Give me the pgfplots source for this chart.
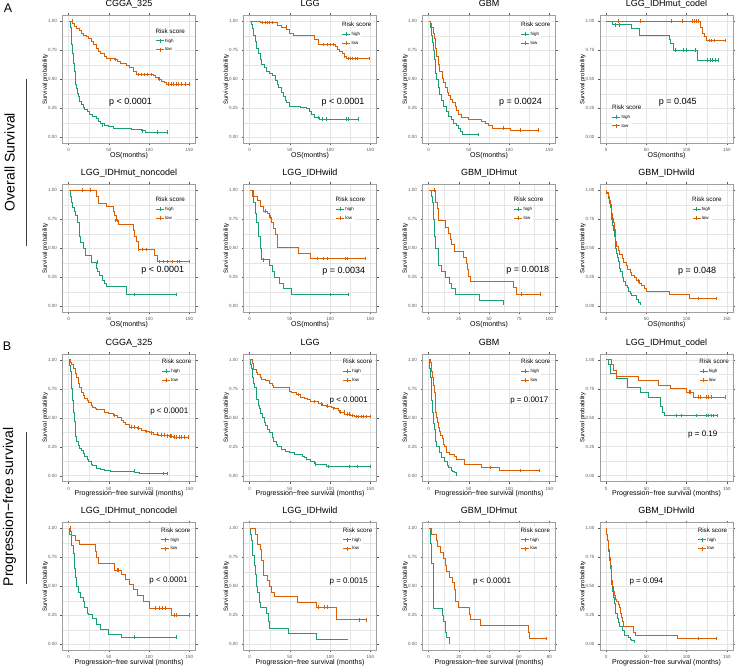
\documentclass[border=0pt]{standalone}
\usepackage{fontspec}
\setmainfont{Liberation Sans}
\usepackage{pgfplots}
\pgfplotsset{compat=1.18}
\definecolor{khigh}{HTML}{1B9E77}
\definecolor{klow}{HTML}{D95F02}
\definecolor{kgrid}{gray}{0.90}
\definecolor{kframe}{gray}{0.62}
\definecolor{ktick}{gray}{0.35}
\pgfplotsset{
  km/.style={
    width=133pt, height=127.5pt, scale only axis, anchor=south west,
    xmin=-7.5, xmax=157.5, ymin=-0.05, ymax=1.05,
    xtick={0,50,100,150}, minor xtick={25,75,125},
    ytick={0,0.25,0.5,0.75,1}, minor ytick={0.125,0.375,0.625,0.875},
    yticklabels={0.00,0.25,0.50,0.75,1.00},
    grid=both,
    major grid style={draw=kgrid, line width=0.5pt},
    minor grid style={draw=kgrid, line width=0.3pt},
    axis line style={draw=kframe, line width=0.6pt},
    tick align=outside, major tick length=2pt, minor tick length=0pt,
    tick style={draw=ktick, line width=0.4pt},
    tick label style={font=\fontsize{4.5}{5}\selectfont, text=ktick},
    /pgf/number format/assume math mode=true,
    ylabel={Survival probability},
    ylabel style={font=\fontsize{6}{7}\selectfont, at={(axis description cs:-0.13,0.5)}, anchor=center},
    xlabel style={font=\fontsize{7}{8}\selectfont, at={(axis description cs:0.5,0)}, anchor=center, yshift=-12.3pt},
    title style={font=\fontsize{9}{10}\selectfont, at={(axis description cs:0.5,1)}, anchor=base, yshift=3pt},
    legend cell align=left,
    legend style={draw=none, fill=white, inner sep=0.5pt, anchor=north west,
      font=\fontsize{4.5}{5}\selectfont, row sep=3pt,
      nodes={inner sep=0.8pt, text height=3.4pt, text depth=0.9pt}},
    legend image code/.code={
      \draw[#1,line width=0.8pt] (0pt,0pt) -- (8pt,0pt);
      \draw[#1,line width=0.8pt] (4pt,-2pt) -- (4pt,2pt);
    },
  },
  os/.style={xlabel={OS(months)}},
  pfs/.style={xlabel={Progression−free survival (months)}},
  hl/.style={khigh, line width=0.75pt, const plot},
  ll/.style={klow, line width=0.75pt, const plot},
  hc/.style={khigh, only marks, mark=|, mark size=1.8pt, forget plot, mark options={line width=0.5pt}},
  lc/.style={klow, only marks, mark=|, mark size=1.8pt, forget plot, mark options={line width=0.5pt}},
  legat/.style 2 args={legend style={at={(axis description cs:#1,#2)}}},
}
\newcommand{\risk}[2]{\node[anchor=west, inner sep=0.5pt, fill=white, font=\fontsize{6.3}{7}\selectfont] at (axis description cs:#1,#2) {Risk score};}
\newcommand{\pA}[3]{\node[font=\fontsize{9}{10}\selectfont] at (axis cs:#1,#2) {#3};}
\newcommand{\pB}[3]{\node[font=\fontsize{8}{9}\selectfont] at (axis cs:#1,#2) {#3};}
\begin{document}
\begin{tikzpicture}
\useasboundingbox (0pt,0pt) rectangle (739pt,-671pt);
\node[font=\fontsize{12.5}{14}\selectfont] at (8pt,-8pt) {A};
\node[font=\fontsize{12.5}{14}\selectfont] at (7pt,-346pt) {B};
\node[rotate=90, font=\fontsize{14}{16}\selectfont] at (9.5pt,-162pt) {Overall Survival};
\node[rotate=90, font=\fontsize{14}{16}\selectfont] at (9.5pt,-507pt) {Progression−free survival};
\draw[black!75, line width=0.6pt] (26.5pt,-79pt) -- (26.5pt,-246pt);
\draw[black!75, line width=0.6pt] (26.5pt,-432pt) -- (26.5pt,-584pt);

% ---------------- Row 1 : OS ----------------
\begin{axis}[km, os, at={(62.5pt,-143pt)}, title={CGGA\_325}, legat={0.694}{0.83}]
\addplot[hl] coordinates {(0,1)(2,0.95)(3,0.88)(4,0.8)(5,0.72)(6,0.64)(7,0.57)(8,0.51)(9,0.46)(10,0.42)(11,0.38)(12,0.35)(14,0.31)(16,0.28)(18,0.26)(20,0.24)(23,0.22)(26,0.2)(30,0.18)(34,0.16)(37,0.14)(40,0.12)(44,0.1)(50,0.09)(56,0.08)(65,0.075)(78,0.065)(90,0.055)(95,0.045)(123,0.045)};
\addplot[hc] coordinates {(42,0.1)(92,0.055)(110,0.045)(123,0.045)};
\addplot[ll] coordinates {(0,1)(3,1)(5,0.98)(7,0.96)(10,0.94)(13,0.92)(16,0.9)(19,0.88)(22,0.87)(25,0.85)(28,0.83)(31,0.8)(34,0.77)(37,0.74)(40,0.72)(44,0.7)(47,0.68)(57,0.67)(60,0.655)(64,0.64)(72,0.62)(76,0.6)(80,0.57)(84,0.54)(105,0.53)(108,0.515)(111,0.5)(115,0.48)(119,0.47)(121,0.46)(150,0.46)};
\addplot[lc] coordinates {(4,1)(52,0.67)(58,0.67)(86,0.54)(90,0.54)(94,0.54)(98,0.54)(102,0.54)(112,0.5)(124,0.46)(127,0.46)(130,0.46)(133,0.46)(136,0.46)(140,0.46)(145,0.46)(150,0.46)};
\legend{high,low}
\risk{0.694}{0.879}
\pA{77}{0.3}{p < 0.0001}
\end{axis}

\begin{axis}[km, os, at={(243.5pt,-143pt)}, title={LGG}, legat={0.736}{0.882}]
\addplot[hl] coordinates {(0,1)(2,0.97)(3,0.94)(5,0.88)(7,0.83)(9,0.77)(11,0.72)(13,0.67)(15,0.63)(18,0.6)(21,0.57)(25,0.55)(28,0.53)(32,0.49)(34,0.46)(36,0.43)(39,0.39)(42,0.35)(44,0.32)(46,0.3)(49,0.27)(63,0.26)(71,0.25)(74,0.22)(77,0.2)(81,0.17)(87,0.155)(135,0.155)};
\addplot[hc] coordinates {(85,0.17)(90,0.155)(95,0.155)(120,0.155)(122,0.155)(135,0.155)};
\addplot[ll] coordinates {(0,1)(14,0.99)(34,0.965)(40,0.95)(46,0.93)(50,0.9)(54,0.88)(81,0.84)(86,0.8)(106,0.78)(109,0.76)(112,0.74)(115,0.72)(118,0.7)(120,0.68)(149,0.68)};
\addplot[lc] coordinates {(16,0.99)(19,0.99)(22,0.99)(25,0.99)(28,0.99)(45,0.95)(92,0.8)(96,0.8)(100,0.8)(104,0.8)(118,0.7)(122,0.68)(125,0.68)(128,0.68)(131,0.68)(134,0.68)(149,0.68)};
\legend{high,low}
\risk{0.736}{0.931}
\pA{116}{0.3}{p < 0.0001}
\end{axis}

\begin{axis}[km, os, at={(422.5pt,-143pt)}, title={GBM}, legat={0.736}{0.882}]
\addplot[hl] coordinates {(0,1)(2,0.95)(4,0.88)(5,0.82)(6,0.75)(7,0.67)(8,0.6)(9,0.55)(10,0.5)(12,0.43)(14,0.37)(16,0.32)(19,0.27)(22,0.22)(25,0.18)(28,0.15)(31,0.12)(34,0.1)(37,0.08)(40,0.05)(42,0.025)(62,0.025)};
\addplot[hc] coordinates {(62,0.025)};
\addplot[ll] coordinates {(0,1)(2,0.98)(4,0.95)(6,0.9)(7,0.85)(9,0.77)(10,0.7)(12,0.63)(14,0.57)(17,0.51)(19,0.47)(21,0.43)(23,0.39)(25,0.36)(27,0.33)(30,0.3)(33,0.27)(35,0.23)(37,0.2)(41,0.17)(50,0.15)(66,0.14)(71,0.12)(74,0.1)(79,0.08)(101,0.06)(136,0.06)};
\addplot[lc] coordinates {(93,0.08)(114,0.06)(136,0.06)};
\legend{high,low}
\risk{0.736}{0.931}
\pA{114}{0.3}{p = 0.0024}
\end{axis}

\begin{axis}[km, os, at={(600pt,-143pt)}, title={LGG\_IDHmut\_codel}, legat={0.085}{0.233}]
\addplot[hl] coordinates {(0,1)(8,0.97)(32,0.94)(41,0.875)(78,0.84)(80,0.81)(84,0.75)(113,0.665)(140,0.665)};
\addplot[hc] coordinates {(12,0.97)(16,0.97)(86,0.75)(96,0.75)(99,0.75)(111,0.75)(126,0.665)(129,0.665)(132,0.665)(135,0.665)(139,0.665)};
\addplot[ll] coordinates {(0,1)(117,0.95)(120,0.9)(122,0.87)(124,0.835)(148,0.835)};
\addplot[lc] coordinates {(15,1)(43,1)(81,1)(94,1)(107,1)(110,1)(112,1)(114,1)(128,0.835)(131,0.835)(134,0.835)(148,0.835)};
\legend{high,low}
\risk{0.085}{0.282}
\pA{89}{0.3}{p = 0.045}
\end{axis}

% ---------------- Row 2 : OS ----------------
\begin{axis}[km, os, at={(62.5pt,-312pt)}, title={LGG\_IDHmut\_noncodel}, legat={0.694}{0.833}]
\addplot[hl] coordinates {(0,1)(2,0.95)(3,0.9)(5,0.85)(7,0.82)(9,0.78)(11,0.72)(13,0.66)(14,0.6)(15,0.55)(18,0.5)(21,0.44)(28,0.38)(34,0.33)(36,0.3)(38,0.27)(42,0.22)(45,0.2)(47,0.17)(72,0.1)(133,0.1)};
\addplot[hc] coordinates {(35,0.38)(82,0.1)(133,0.1)};
\addplot[ll] coordinates {(0,1)(34,0.95)(37,0.89)(47,0.86)(55,0.82)(57,0.78)(59,0.74)(62,0.71)(80,0.65)(82,0.6)(84,0.56)(87,0.49)(107,0.44)(110,0.385)(150,0.385)};
\addplot[lc] coordinates {(17,1)(27,1)(58,0.74)(60,0.74)(86,0.49)(91,0.49)(97,0.49)(113,0.385)(118,0.385)(123,0.385)(129,0.385)(135,0.385)(137,0.385)(150,0.385)};
\legend{high,low}
\risk{0.694}{0.882}
\pA{117}{0.31}{p < 0.0001}
\end{axis}

\begin{axis}[km, os, at={(243.5pt,-312pt)}, title={LGG\_IDHwild}, legat={0.688}{0.833}]
\addplot[hl] coordinates {(0,1)(5,0.9)(7,0.8)(9,0.72)(11,0.6)(13,0.5)(15,0.4)(25,0.35)(28,0.3)(31,0.25)(37,0.2)(42,0.15)(52,0.1)(123,0.1)};
\addplot[hc] coordinates {(17,0.4)(100,0.1)(123,0.1)};
\addplot[ll] coordinates {(0,1)(4,0.95)(10,0.91)(14,0.86)(17,0.82)(22,0.8)(25,0.77)(27,0.72)(30,0.67)(32,0.62)(34,0.56)(35,0.51)(60,0.46)(76,0.41)(144,0.41)};
\addplot[lc] coordinates {(20,0.82)(26,0.77)(84,0.41)(92,0.41)(96,0.41)(119,0.41)(121,0.41)(144,0.41)};
\legend{high,low}
\risk{0.688}{0.882}
\pA{117}{0.30}{p = 0.0034}
\end{axis}

\begin{axis}[km, os, at={(422.5pt,-312pt)}, title={GBM\_IDHmut}, xmin=-5, xmax=105, xtick={0,25,50,75,100}, minor xtick={12.5,37.5,62.5,87.5}, legat={0.682}{0.833}]
\addplot[hl] coordinates {(0,1)(2,0.95)(3,0.9)(4,0.75)(5,0.6)(6,0.5)(8,0.35)(11,0.3)(14,0.25)(17,0.2)(19,0.15)(22,0.1)(42,0.05)(61,0.05)(61.5,0.01)};
\addplot[ll] coordinates {(0,1)(6,0.9)(7,0.84)(8,0.74)(14,0.68)(16,0.63)(18,0.58)(19,0.53)(21,0.47)(29,0.42)(31,0.37)(32,0.32)(33,0.26)(35,0.21)(70,0.16)(73,0.105)(92,0.105)};
\addplot[lc] coordinates {(5,1)(77,0.105)(92,0.105)};
\legend{high,low}
\risk{0.682}{0.882}
\pA{82}{0.31}{p = 0.0018}
\end{axis}

\begin{axis}[km, os, at={(600pt,-312pt)}, title={GBM\_IDHwild}, legat={0.688}{0.833}]
\addplot[hl] coordinates {(0,1)(1,0.97)(3,0.93)(4,0.89)(5,0.85)(6,0.8)(7,0.75)(8,0.7)(9,0.65)(10,0.6)(11,0.55)(12,0.5)(13,0.46)(14,0.42)(15,0.39)(16,0.36)(17,0.33)(18,0.3)(20,0.25)(22,0.21)(24,0.18)(26,0.16)(28,0.13)(30,0.11)(32,0.09)(38,0.06)(40,0.03)(42,0.01)};
\addplot[ll] coordinates {(0,1)(1,0.98)(3,0.95)(4,0.91)(5,0.88)(6,0.85)(7,0.8)(8,0.76)(9,0.72)(10,0.66)(11,0.6)(12,0.56)(13,0.52)(15,0.48)(17,0.45)(20,0.41)(22,0.38)(25,0.35)(27,0.32)(30,0.29)(32,0.27)(35,0.25)(38,0.22)(41,0.2)(44,0.18)(47,0.15)(50,0.13)(78,0.1)(103,0.065)(137,0.065)};
\addplot[lc] coordinates {(40,0.22)(114,0.065)(137,0.065)};
\legend{high,low}
\risk{0.688}{0.882}
\pA{113}{0.30}{p = 0.048}
\end{axis}

% ---------------- Row 3 : PFS ----------------
\begin{axis}[km, pfs, at={(62.5pt,-481.5pt)}, title={CGGA\_325}, legat={0.742}{0.893}]
\addplot[hl] coordinates {(0,1)(1,0.95)(2,0.9)(3,0.82)(4,0.75)(5,0.65)(6,0.55)(7,0.47)(8,0.4)(9,0.34)(10,0.3)(12,0.26)(14,0.24)(16,0.22)(18,0.19)(20,0.17)(23,0.14)(25,0.12)(28,0.1)(30,0.09)(35,0.065)(40,0.055)(45,0.05)(52,0.04)(82,0.03)(88,0.02)(123,0.02)};
\addplot[hc] coordinates {(81,0.04)(117,0.02)(123,0.02)};
\addplot[ll] coordinates {(0,1)(2,0.98)(4,0.96)(6,0.93)(8,0.88)(10,0.85)(12,0.8)(14,0.76)(16,0.72)(18,0.69)(20,0.67)(23,0.65)(25,0.63)(28,0.61)(30,0.59)(33,0.58)(35,0.57)(45,0.55)(50,0.535)(55,0.52)(60,0.5)(65,0.48)(68,0.46)(71,0.44)(75,0.42)(85,0.41)(90,0.395)(95,0.38)(100,0.37)(105,0.36)(112,0.35)(120,0.345)(125,0.34)(130,0.335)(149,0.335)};
\addplot[lc] coordinates {(57,0.52)(78,0.42)(82,0.42)(87,0.41)(97,0.38)(102,0.37)(110,0.36)(115,0.35)(119,0.35)(122,0.345)(126,0.34)(128,0.34)(131,0.335)(134,0.335)(137,0.335)(140,0.335)(143,0.335)(149,0.335)};
\legend{high,low}
\risk{0.742}{0.942}
\pB{125}{0.554}{p < 0.0001}
\end{axis}

\begin{axis}[km, pfs, at={(243.5pt,-481.5pt)}, title={LGG}, legat={0.742}{0.893}]
\addplot[hl] coordinates {(0,1)(1,0.96)(2,0.93)(3,0.89)(4,0.85)(5,0.8)(6,0.76)(8,0.7)(9,0.66)(11,0.61)(12,0.58)(14,0.54)(16,0.5)(18,0.46)(20,0.43)(22,0.4)(25,0.37)(28,0.33)(30,0.3)(33,0.27)(35,0.25)(40,0.23)(45,0.21)(50,0.2)(55,0.18)(65,0.17)(68,0.155)(70,0.14)(75,0.12)(80,0.105)(82,0.1)(90,0.095)(95,0.08)(150,0.08)};
\addplot[hc] coordinates {(82,0.1)(98,0.08)(124,0.08)(133,0.08)(150,0.08)};
\addplot[ll] coordinates {(0,1)(3,0.97)(5,0.92)(8,0.89)(10,0.87)(13,0.85)(15,0.83)(20,0.82)(25,0.8)(28,0.78)(30,0.76)(50,0.73)(52,0.72)(58,0.7)(63,0.68)(68,0.67)(72,0.655)(76,0.64)(85,0.62)(90,0.61)(95,0.6)(102,0.59)(105,0.58)(110,0.56)(112,0.55)(118,0.53)(125,0.52)(130,0.51)(150,0.51)};
\addplot[lc] coordinates {(60,0.7)(80,0.64)(89,0.62)(96,0.6)(104,0.58)(113,0.55)(117,0.55)(121,0.53)(124,0.53)(128,0.52)(132,0.51)(135,0.51)(138,0.51)(141,0.51)(145,0.51)(150,0.51)};
\legend{high,low}
\risk{0.742}{0.942}
\pB{123}{0.65}{p < 0.0001}
\end{axis}

\begin{axis}[km, pfs, at={(422.5pt,-481.5pt)}, title={GBM}, legat={0.736}{0.893}]
\addplot[hl] coordinates {(0,1)(1,0.93)(2,0.85)(3,0.75)(4,0.65)(5,0.55)(6,0.45)(7,0.4)(8,0.35)(9,0.3)(10,0.25)(13,0.2)(16,0.16)(20,0.12)(23,0.09)(25,0.07)(28,0.05)(30,0.04)(32,0.03)(34,0.02)(35,0.0)};
\addplot[ll] coordinates {(0,1)(2,0.98)(3,0.95)(4,0.9)(5,0.85)(6,0.78)(7,0.72)(8,0.62)(9,0.55)(10,0.5)(11,0.46)(12,0.42)(14,0.38)(15,0.35)(17,0.32)(18,0.3)(19,0.27)(20,0.25)(22,0.2)(26,0.18)(32,0.17)(35,0.14)(45,0.1)(66,0.07)(88,0.045)(137,0.045)};
\addplot[lc] coordinates {(77,0.07)(114,0.045)(137,0.045)};
\legend{high,low}
\risk{0.736}{0.942}
\pB{125}{0.65}{p = 0.0017}
\end{axis}

\begin{axis}[km, pfs, at={(600pt,-481.5pt)}, title={LGG\_IDHmut\_codel}, legat={0.742}{0.893}]
\addplot[hl] coordinates {(0,1)(3,0.96)(5,0.88)(13,0.84)(26,0.76)(42,0.72)(52,0.68)(67,0.6)(70,0.55)(72,0.52)(138,0.52)};
\addplot[hc] coordinates {(87,0.52)(93,0.52)(112,0.52)(124,0.52)(127,0.52)(130,0.52)(133,0.52)(138,0.52)};
\addplot[ll] coordinates {(0,1)(6,0.96)(9,0.91)(13,0.86)(40,0.82)(65,0.78)(80,0.75)(100,0.72)(108,0.68)(148,0.68)};
\addplot[lc] coordinates {(103,0.72)(105,0.72)(115,0.68)(117,0.68)(124,0.68)(127,0.68)(130,0.68)(148,0.68)};
\legend{high,low}
\risk{0.742}{0.942}
\pB{120}{0.354}{p = 0.19}
\end{axis}

% ---------------- Row 4 : PFS ----------------
\begin{axis}[km, pfs, at={(62.5pt,-650pt)}, title={LGG\_IDHmut\_noncodel}, legat={0.736}{0.893}]
\addplot[hl] coordinates {(0,1)(1,0.95)(3,0.9)(4,0.85)(6,0.78)(7,0.65)(8,0.58)(10,0.5)(12,0.45)(15,0.4)(18,0.37)(20,0.32)(23,0.27)(25,0.26)(30,0.22)(35,0.17)(40,0.13)(50,0.085)(65,0.06)(133,0.06)};
\addplot[hc] coordinates {(82,0.06)(133,0.06)};
\addplot[ll] coordinates {(0,1)(2,0.97)(3,0.94)(8,0.9)(13,0.86)(33,0.8)(35,0.75)(37,0.7)(57,0.64)(66,0.6)(70,0.56)(75,0.52)(80,0.47)(85,0.42)(93,0.37)(100,0.31)(127,0.25)(150,0.25)};
\addplot[lc] coordinates {(2,1)(60,0.64)(62,0.64)(108,0.31)(112,0.31)(116,0.31)(120,0.31)(131,0.25)(134,0.25)(150,0.25)};
\legend{high,low}
\risk{0.736}{0.942}
\pB{124}{0.55}{p < 0.0001}
\end{axis}

\begin{axis}[km, pfs, at={(243.5pt,-650pt)}, title={LGG\_IDHwild}, legat={0.742}{0.893}]
\addplot[hl] coordinates {(0,1)(1,0.95)(2,0.9)(3,0.82)(4,0.77)(6,0.68)(7,0.6)(8,0.55)(9,0.5)(10,0.45)(12,0.36)(13,0.32)(21,0.27)(23,0.2)(25,0.14)(48,0.09)(83,0.045)(122,0.045)};
\addplot[ll] coordinates {(0,1)(7,0.95)(10,0.86)(13,0.82)(15,0.72)(17,0.59)(22,0.55)(24,0.5)(27,0.45)(31,0.41)(59,0.36)(83,0.32)(108,0.21)(145,0.21)};
\addplot[lc] coordinates {(85,0.32)(93,0.32)(97,0.32)(136,0.21)(145,0.21)};
\legend{high,low}
\risk{0.742}{0.942}
\pB{123}{0.545}{p = 0.0015}
\end{axis}

\begin{axis}[km, pfs, at={(422.5pt,-650pt)}, title={GBM\_IDHmut}, xmin=-4, xmax=84, xtick={0,20,40,60,80}, minor xtick={10,30,50,70}, legat={0.733}{0.893}]
\addplot[hl] coordinates {(0,1)(1,0.87)(2,0.7)(3,0.5)(3.5,0.31)(9,0.25)(10,0.2)(11,0.1)(11.5,0.06)(14,0)};
\addplot[ll] coordinates {(0,1)(2,0.95)(5,0.9)(6,0.84)(7.5,0.79)(10,0.74)(11,0.68)(12,0.63)(14,0.58)(16,0.53)(17,0.47)(17.5,0.42)(18,0.37)(20,0.32)(27,0.26)(28,0.21)(34,0.16)(66,0.1)(67,0.05)(78,0.05)};
\addplot[lc] coordinates {(78,0.05)};
\legend{high,low}
\risk{0.733}{0.942}
\pB{42}{0.545}{p < 0.0001}
\end{axis}

\begin{axis}[km, pfs, at={(600pt,-650pt)}, title={GBM\_IDHwild}, legat={0.730}{0.893}]
\addplot[hl] coordinates {(0,1)(1,0.95)(2,0.9)(3,0.8)(4,0.72)(5,0.65)(6,0.58)(7,0.52)(8,0.46)(9,0.4)(10,0.35)(11,0.3)(12,0.27)(14,0.22)(15,0.19)(17,0.15)(20,0.12)(23,0.08)(28,0.06)(30,0.045)(32,0.03)(35,0.01)};
\addplot[ll] coordinates {(0,1)(1,0.95)(2,0.9)(3,0.82)(4,0.75)(5,0.68)(6,0.6)(7,0.55)(8,0.5)(9,0.46)(10,0.42)(12,0.39)(13,0.37)(15,0.34)(16,0.32)(18,0.27)(19,0.23)(20,0.2)(22,0.15)(34,0.1)(36,0.075)(88,0.05)(137,0.05)};
\addplot[lc] coordinates {(114,0.05)(137,0.05)};
\legend{high,low}
\risk{0.730}{0.942}
\pB{50}{0.545}{p = 0.094}
\end{axis}
\end{tikzpicture}
\end{document}
